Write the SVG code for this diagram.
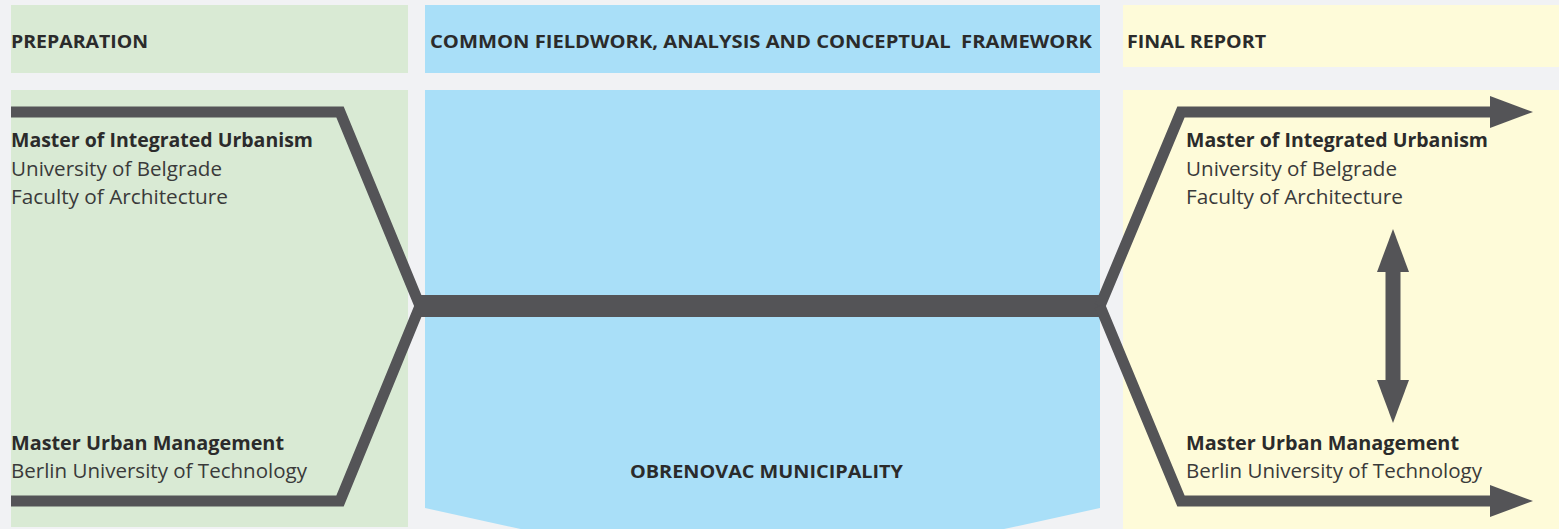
<svg xmlns="http://www.w3.org/2000/svg" width="1559" height="529" viewBox="0 0 1559 529">
<style>
.hd{font-family:"Open Sans","Liberation Sans",sans-serif;font-weight:700;font-size:18px;fill:#2b2b2b}
.b{font-family:"Open Sans","Liberation Sans",sans-serif;font-weight:700;font-size:20px;fill:#2b2b2b}
.r{font-family:"Open Sans","Liberation Sans",sans-serif;font-weight:400;font-size:20px;fill:#3a3a3a}
.line{fill:none;stroke:#545457;stroke-width:11;stroke-linejoin:miter}
.green{fill:#d9ead4}
.blue{fill:#a9dff8}
.yellow{fill:#fefbd9}
</style>
<defs>
<marker id="ah" markerUnits="userSpaceOnUse" markerWidth="43" markerHeight="32" refX="0" refY="16" orient="auto-start-reverse" viewBox="0 0 43 32">
<path d="M0,0 L43,16 L0,32 Z" fill="#545457"/>
</marker>
</defs>
<rect width="1559" height="529" fill="#f1f2f4"/>
<g id="preparation">
<rect class="green" x="11" y="5" width="397" height="68"/>
<rect class="green" x="11" y="90" width="397" height="437"/>
<text class="hd" x="11" y="48" textLength="137" lengthAdjust="spacingAndGlyphs">PREPARATION</text>
</g>
<g id="common">
<rect class="blue" x="425" y="5" width="675" height="68"/>
<path class="blue" d="M425,90 H1100 V508 L762,582 L425,508 Z"/>
<text class="hd" x="430" y="48" textLength="662" lengthAdjust="spacingAndGlyphs" xml:space="preserve">COMMON FIELDWORK, ANALYSIS AND CONCEPTUAL  FRAMEWORK</text>
<text class="hd" x="630" y="478" textLength="273" lengthAdjust="spacingAndGlyphs">OBRENOVAC MUNICIPALITY</text>
</g>
<g id="final-report">
<rect class="yellow" x="1123" y="5" width="436" height="62"/>
<rect class="yellow" x="1123" y="90" width="436" height="439"/>
<text class="hd" x="1127" y="48" textLength="139" lengthAdjust="spacingAndGlyphs">FINAL REPORT</text>
</g>
<g id="connectors">
<path class="line" d="M11,112 H340 L420,306"/>
<path class="line" d="M11,501 H340 L420,306"/>
<path d="M418,306 H1102" fill="none" stroke="#545457" stroke-width="22"/>
<path class="line" d="M1100,306 L1181,112 H1490" marker-end="url(#ah)"/>
<path class="line" d="M1100,306 L1181,501 H1490" marker-end="url(#ah)"/>
<path d="M1393,272 V380" fill="none" stroke="#545457" stroke-width="15" marker-start="url(#ah)" marker-end="url(#ah)"/>
</g>
<g id="mir-left">
<text class="b" x="11" y="147" textLength="302" lengthAdjust="spacingAndGlyphs">Master of Integrated Urbanism</text>
<text class="r" x="11" y="176" textLength="211" lengthAdjust="spacingAndGlyphs">University of Belgrade</text>
<text class="r" x="11" y="204" textLength="217" lengthAdjust="spacingAndGlyphs">Faculty of Architecture</text>
</g>
<g id="mum-left">
<text class="b" x="11" y="450" textLength="273" lengthAdjust="spacingAndGlyphs">Master Urban Management</text>
<text class="r" x="11" y="478" textLength="296" lengthAdjust="spacingAndGlyphs">Berlin University of Technology</text>
</g>
<g id="mir-right">
<text class="b" x="1186" y="147" textLength="302" lengthAdjust="spacingAndGlyphs">Master of Integrated Urbanism</text>
<text class="r" x="1186" y="176" textLength="211" lengthAdjust="spacingAndGlyphs">University of Belgrade</text>
<text class="r" x="1186" y="204" textLength="217" lengthAdjust="spacingAndGlyphs">Faculty of Architecture</text>
</g>
<g id="mum-right">
<text class="b" x="1186" y="450" textLength="273" lengthAdjust="spacingAndGlyphs">Master Urban Management</text>
<text class="r" x="1186" y="478" textLength="296" lengthAdjust="spacingAndGlyphs">Berlin University of Technology</text>
</g>
</svg>
